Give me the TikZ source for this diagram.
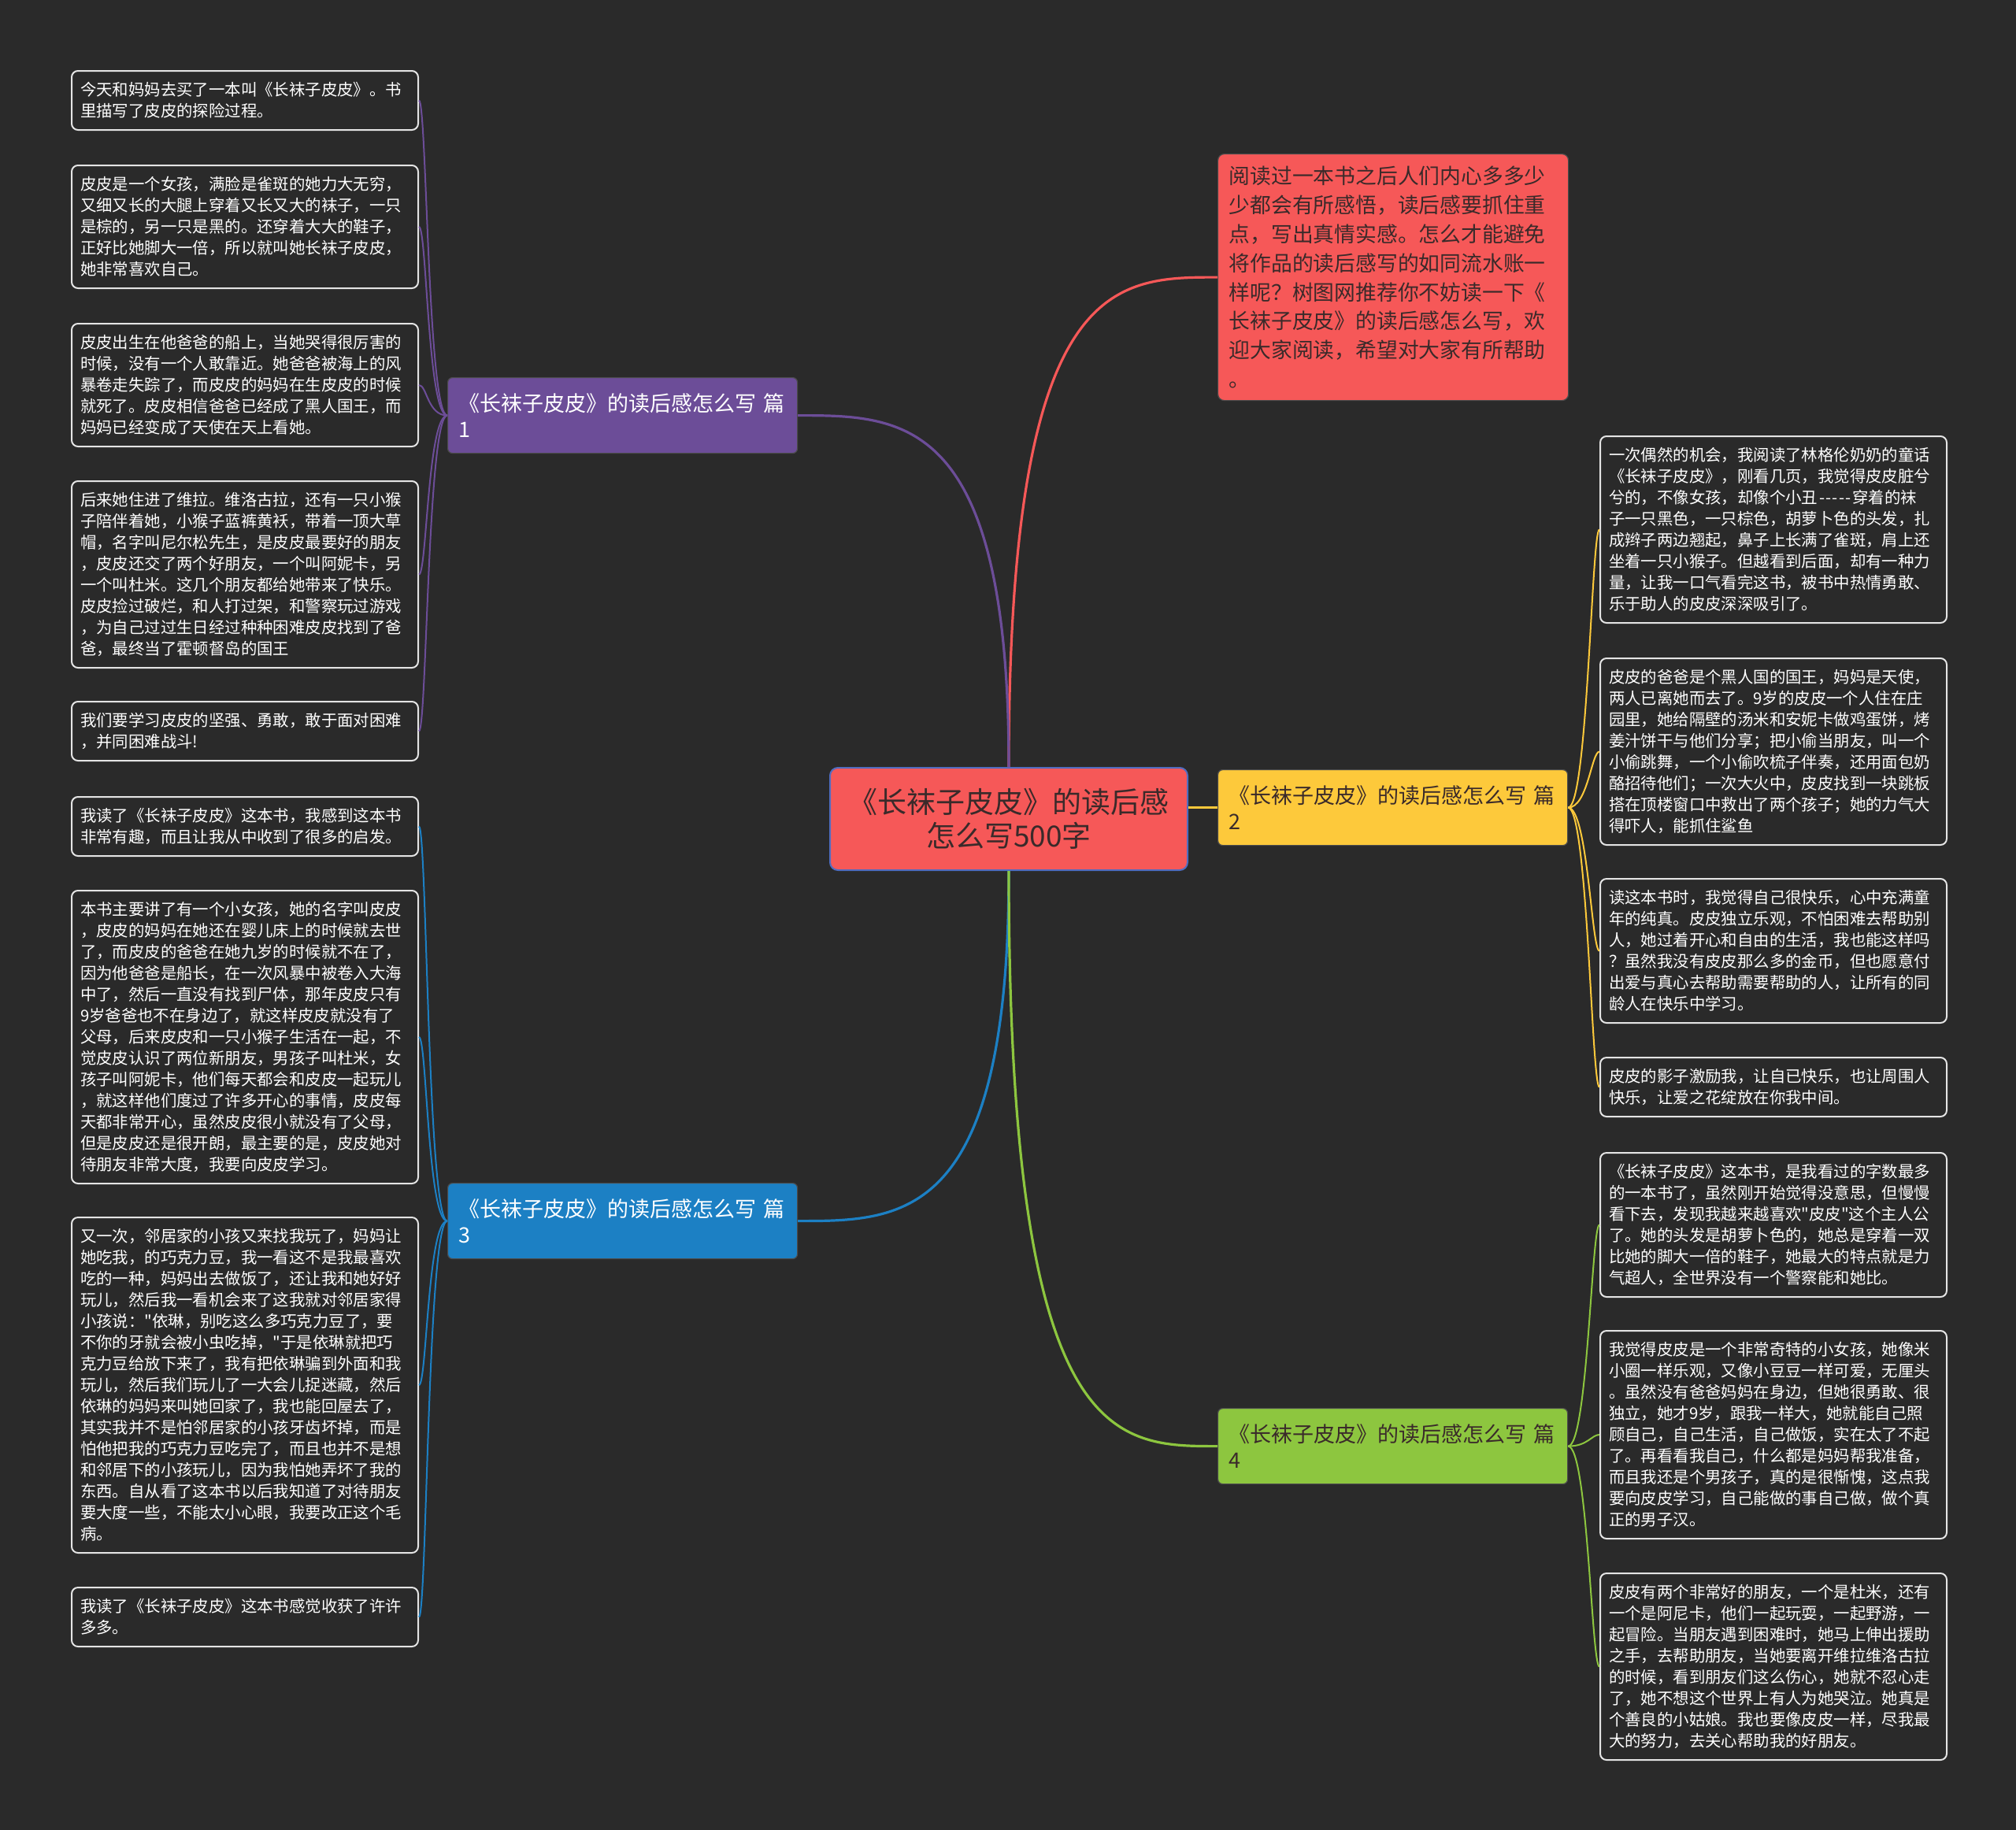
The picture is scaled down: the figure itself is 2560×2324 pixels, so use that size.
\documentclass[tikz,border=0pt]{standalone}
\usepackage{fontspec}
\newfontfamily\cjk{Noto Sans CJK SC}
\usetikzlibrary{calc}
\definecolor{bgc}{RGB}{42,42,42}
\definecolor{leafline}{RGB}{228,228,228}
\definecolor{redc}{RGB}{246,88,88}
\definecolor{purc}{RGB}{108,77,152}
\definecolor{bluc}{RGB}{28,128,196}
\definecolor{grnc}{RGB}{141,198,63}
\definecolor{yelc}{RGB}{253,201,59}
\definecolor{darktext}{RGB}{58,42,42}
\definecolor{cborder}{RGB}{80,108,192}
\begin{document}
\begin{tikzpicture}[x=0.5pt,y=-0.5pt,
  leaf/.style={draw=leafline, line width=1pt, fill=bgc, rounded corners=4pt,
    anchor=north west, text=white, font=\cjk\fontsize{10.2pt}{13.5pt}\selectfont,
    align=left, text width=209pt, inner xsep=5.5pt, inner ysep=1pt, minimum width=220pt},
  branch/.style={draw=black!70, line width=0.6pt, rounded corners=3pt, anchor=north west,
    font=\cjk\fontsize{13.5pt}{16.5pt}\selectfont, align=left, text width=208pt,
    inner xsep=7pt, inner ysep=1pt, minimum width=222pt, minimum height=48pt},
  mainline/.style={line width=1.6pt},
  leafedge/.style={line width=1pt}
]
\fill[bgc] (0,0) rectangle (2560,2324);
\useasboundingbox (0,0) rectangle (2560,2324);

% center
\node[draw=cborder, line width=1pt, fill=redc, rounded corners=5pt, anchor=north west,
  minimum width=227pt, minimum height=65pt, text=darktext, align=center,
  font=\cjk\fontsize{18.5pt}{21.5pt}\selectfont] (c) at (1053,974)
  {《长袜子皮皮》的读后感\\怎么写500字};

% top intro box
\node[draw=black!70, line width=0.6pt, fill=redc, rounded corners=4pt, anchor=north west,
  minimum width=222.5pt, minimum height=156.5pt, text=darktext, align=left,
  text width=208.5pt, inner xsep=7pt, inner ysep=1pt,
  font=\cjk\fontsize{13.4pt}{18.45pt}\selectfont] (t) at (1546,195)
  {阅读过一本书之后人们内心多多少\\少都会有所感悟，读后感要抓住重\\点，写出真情实感。怎么才能避免\\将作品的读后感写的如同流水账一\\样呢？树图网推荐你不妨读一下《\\长袜子皮皮》的读后感怎么写，欢\\迎大家阅读，希望对大家有所帮助\\。};

% branches
\node[branch, fill=purc, text=white] (b1) at (568,479) {《长袜子皮皮》的读后感怎么写~篇\\1};
\node[branch, fill=yelc, text=darktext] (b2) at (1546,977) {《长袜子皮皮》的读后感怎么写~篇\\2};
\node[branch, fill=bluc, text=white] (b3) at (568,1502) {《长袜子皮皮》的读后感怎么写~篇\\3};
\node[branch, fill=grnc, text=darktext] (b4) at (1546,1788) {《长袜子皮皮》的读后感怎么写~篇\\4};

% left leaves
\node[leaf, minimum height=37.5pt] (l1) at (90,89)
  {今天和妈妈去买了一本叫《长袜子皮皮》。书\\里描写了皮皮的探险过程。};
\node[leaf, minimum height=78pt] (l2) at (90,209)
  {皮皮是一个女孩，满脸是雀斑的她力大无穷，\\又细又长的大腿上穿着又长又大的袜子，一只\\是棕的，另一只是黑的。还穿着大大的鞋子，\\正好比她脚大一倍，所以就叫她长袜子皮皮，\\她非常喜欢自己。};
\node[leaf, minimum height=78pt] (l3) at (90,410)
  {皮皮出生在他爸爸的船上，当她哭得很厉害的\\时候，没有一个人敢靠近。她爸爸被海上的风\\暴卷走失踪了，而皮皮的妈妈在生皮皮的时候\\就死了。皮皮相信爸爸已经成了黑人国王，而\\妈妈已经变成了天使在天上看她。};
\node[leaf, minimum height=118.5pt] (l4) at (90,610)
  {后来她住进了维拉。维洛古拉，还有一只小猴\\子陪伴着她，小猴子蓝裤黄袄，带着一顶大草\\帽，名字叫尼尔松先生，是皮皮最要好的朋友\\，皮皮还交了两个好朋友，一个叫阿妮卡，另\\一个叫杜米。这几个朋友都给她带来了快乐。\\皮皮捡过破烂，和人打过架，和警察玩过游戏\\，为自己过过生日经过种种困难皮皮找到了爸\\爸，最终当了霍顿督岛的国王};
\node[leaf, minimum height=37.5pt] (l5) at (90,890)
  {我们要学习皮皮的坚强、勇敢，敢于面对困难\\，并同困难战斗!};
\node[leaf, minimum height=37.5pt] (l6) at (90,1011)
  {我读了《长袜子皮皮》这本书，我感到这本书\\非常有趣，而且让我从中收到了很多的启发。};
\node[leaf, minimum height=186pt] (l7) at (90,1130)
  {本书主要讲了有一个小女孩，她的名字叫皮皮\\，皮皮的妈妈在她还在婴儿床上的时候就去世\\了，而皮皮的爸爸在她九岁的时候就不在了，\\因为他爸爸是船长，在一次风暴中被卷入大海\\中了，然后一直没有找到尸体，那年皮皮只有\\9岁爸爸也不在身边了，就这样皮皮就没有了\\父母，后来皮皮和一只小猴子生活在一起，不\\觉皮皮认识了两位新朋友，男孩子叫杜米，女\\孩子叫阿妮卡，他们每天都会和皮皮一起玩儿\\，就这样他们度过了许多开心的事情，皮皮每\\天都非常开心，虽然皮皮很小就没有了父母，\\但是皮皮还是很开朗，最主要的是，皮皮她对\\待朋友非常大度，我要向皮皮学习。};
\node[leaf, minimum height=213pt] (l8) at (90,1545)
  {又一次，邻居家的小孩又来找我玩了，妈妈让\\她吃我，的巧克力豆，我一看这不是我最喜欢\\吃的一种，妈妈出去做饭了，还让我和她好好\\玩儿，然后我一看机会来了这我就对邻居家得\\小孩说："依琳，别吃这么多巧克力豆了，要\\不你的牙就会被小虫吃掉，"于是依琳就把巧\\克力豆给放下来了，我有把依琳骗到外面和我\\玩儿，然后我们玩儿了一大会儿捉迷藏，然后\\依琳的妈妈来叫她回家了，我也能回屋去了，\\其实我并不是怕邻居家的小孩牙齿坏掉，而是\\怕他把我的巧克力豆吃完了，而且也并不是想\\和邻居下的小孩玩儿，因为我怕她弄坏了我的\\东西。自从看了这本书以后我知道了对待朋友\\要大度一些，不能太小心眼，我要改正这个毛\\病。};
\node[leaf, minimum height=37.5pt] (l9) at (90,2015)
  {我读了《长袜子皮皮》这本书感觉收获了许许\\多多。};

% right leaves
\node[leaf, minimum height=118.5pt] (r1) at (2031,553)
  {一次偶然的机会，我阅读了林格伦奶奶的童话\\《长袜子皮皮》，刚看几页，我觉得皮皮脏兮\\兮的，不像女孩，却像个小丑\kern1pt-\kern0.6pt-\kern0.6pt-\kern0.6pt-\kern0.6pt-\kern1pt穿着的袜\\子一只黑色，一只棕色，胡萝卜色的头发，扎\\成辫子两边翘起，鼻子上长满了雀斑，肩上还\\坐着一只小猴子。但越看到后面，却有一种力\\量，让我一口气看完这书，被书中热情勇敢、\\乐于助人的皮皮深深吸引了。};
\node[leaf, minimum height=118.5pt] (r2) at (2031,835)
  {皮皮的爸爸是个黑人国的国王，妈妈是天使，\\两人已离她而去了。9岁的皮皮一个人住在庄\\园里，她给隔壁的汤米和安妮卡做鸡蛋饼，烤\\姜汁饼干与他们分享；把小偷当朋友，叫一个\\小偷跳舞，一个小偷吹梳子伴奏，还用面包奶\\酪招待他们；一次大火中，皮皮找到一块跳板\\搭在顶楼窗口中救出了两个孩子；她的力气大\\得吓人，能抓住鲨鱼};
\node[leaf, minimum height=91.5pt] (r3) at (2031,1115)
  {读这本书时，我觉得自己很快乐，心中充满童\\年的纯真。皮皮独立乐观，不怕困难去帮助别\\人，她过着开心和自由的生活，我也能这样吗\\？虽然我没有皮皮那么多的金币，但也愿意付\\出爱与真心去帮助需要帮助的人，让所有的同\\龄人在快乐中学习。};
\node[leaf, minimum height=37.5pt] (r4) at (2031,1342)
  {皮皮的影子激励我，让自已快乐，也让周围人\\快乐，让爱之花绽放在你我中间。};
\node[leaf, minimum height=91.5pt] (r5) at (2031,1463)
  {《长袜子皮皮》这本书，是我看过的字数最多\\的一本书了，虽然刚开始觉得没意思，但慢慢\\看下去，发现我越来越喜欢"皮皮"这个主人公\\了。她的头发是胡萝卜色的，她总是穿着一双\\比她的脚大一倍的鞋子，她最大的特点就是力\\气超人，全世界没有一个警察能和她比。};
\node[leaf, minimum height=132pt] (r6) at (2031,1689)
  {我觉得皮皮是一个非常奇特的小女孩，她像米\\小圈一样乐观，又像小豆豆一样可爱，无厘头\\。虽然没有爸爸妈妈在身边，但她很勇敢、很\\独立，她才9岁，跟我一样大，她就能自己照\\顾自己，自己生活，自己做饭，实在太了不起\\了。再看看我自己，什么都是妈妈帮我准备，\\而且我还是个男孩子，真的是很惭愧，这点我\\要向皮皮学习，自己能做的事自己做，做个真\\正的男子汉。};
\node[leaf, minimum height=118.5pt] (r7) at (2031,1997)
  {皮皮有两个非常好的朋友，一个是杜米，还有\\一个是阿尼卡，他们一起玩耍，一起野游，一\\起冒险。当朋友遇到困难时，她马上伸出援助\\之手，去帮助朋友，当她要离开维拉维洛古拉\\的时候，看到朋友们这么伤心，她就不忍心走\\了，她不想这个世界上有人为她哭泣。她真是\\个善良的小姑娘。我也要像皮皮一样，尽我最\\大的努力，去关心帮助我的好朋友。};

% main connectors
\draw[mainline, draw=redc] (c.north) .. controls (c.north |- t.west) and ($(c.north |- t.west)!0.5!(t.west)$) .. (t.west);
\draw[mainline, draw=purc] (c.north) .. controls (c.north |- b1.east) and ($(c.north |- b1.east)!0.5!(b1.east)$) .. (b1.east);
\draw[mainline, draw=bluc] (c.south) .. controls (c.south |- b3.east) and ($(c.south |- b3.east)!0.5!(b3.east)$) .. (b3.east);
\draw[mainline, draw=grnc] (c.south) .. controls (c.south |- b4.west) and ($(c.south |- b4.west)!0.5!(b4.west)$) .. (b4.west);
\draw[mainline, draw=yelc] (c.east |- b2.west) -- (b2.west);

% leaf connectors
\foreach \n in {l1,l2,l3,l4,l5}
  \draw[leafedge, draw=purc] (b1.west) .. controls +(-25,0) and +(10,0) .. (\n.east);
\foreach \n in {l6,l7,l8,l9}
  \draw[leafedge, draw=bluc] (b3.west) .. controls +(-25,0) and +(10,0) .. (\n.east);
\foreach \n in {r1,r2,r3,r4}
  \draw[leafedge, draw=yelc] (b2.east) .. controls +(25,0) and +(-10,0) .. (\n.west);
\foreach \n in {r5,r6,r7}
  \draw[leafedge, draw=grnc] (b4.east) .. controls +(25,0) and +(-10,0) .. (\n.west);
\end{tikzpicture}
\end{document}
